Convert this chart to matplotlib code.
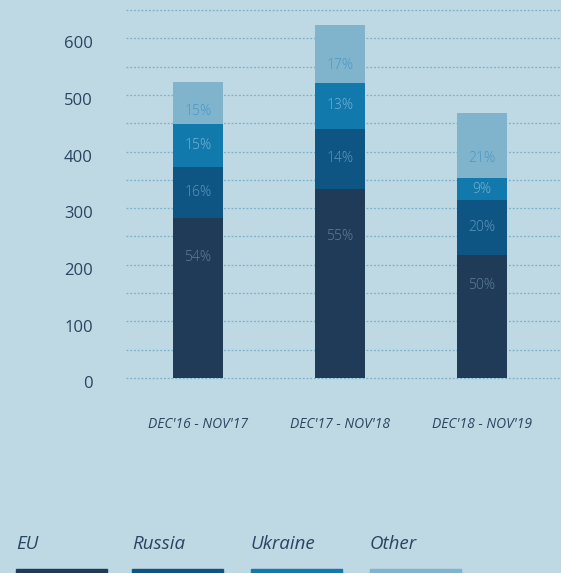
import matplotlib
matplotlib.use("Agg")
import matplotlib.pyplot as plt
import numpy as np
from matplotlib.patches import Rectangle
from matplotlib.transforms import ScaledTranslation

# ============================================================
# Data
# ============================================================
periods = ["DEC'16 - NOV'17", "DEC'17 - NOV'18", "DEC'18 - NOV'19"]
series = ["EU", "Russia", "Ukraine", "Other"]

eu = [283, 334, 217]
russia = [90, 106, 97]
ukraine = [76, 81, 39]
other = [74, 103, 115]

eu_pct = ["54%", "55%", "50%"]
russia_pct = ["16%", "14%", "20%"]
ukraine_pct = ["15%", "13%", "9%"]
other_pct = ["15%", "17%", "21%"]

# ============================================================
# Style
# ============================================================
bg = "#bed8e4"
colors = ["#1f3b57", "#0f5584", "#1279ad", "#80b4cd"]
text_colors = ["#5f7f9a", "#5f98c0", "#76b2d6", "#4a96c4"]
label_pos = [0.75, 0.5, 0.5, 0.3]
navy = "#2a4560"

plt.rcParams.update({
    "font.family": ["Open Sans", "DejaVu Sans"],
})

W, H = 561, 573
fig = plt.figure(figsize=(W / 100, H / 100), dpi=100, facecolor=bg)
ax = fig.add_axes([126 / W, (H - 378) / H, 435 / W, 368 / H])
ax.set_facecolor(bg)

x = np.arange(len(periods))
width = 0.352

values = [eu, russia, ukraine, other]
pcts = [eu_pct, russia_pct, ukraine_pct, other_pct]
bottom = np.zeros(len(periods))
for vals, lbls, col, tcol, frac in zip(values, pcts, colors, text_colors, label_pos):
    vals = np.array(vals, dtype=float)
    ax.bar(x, vals, width, bottom=bottom, color=col, zorder=3)
    for j in range(len(periods)):
        ax.text(x[j], bottom[j] + vals[j] * frac, lbls[j], ha="center", va="center",
                color=tcol, fontsize=10, fontweight="light", zorder=4)
    bottom += vals

ax.set_xlim(-0.507, 2.556)
ax.set_ylim(0, 650)

ax.set_yticks(np.arange(0, 601, 100))
ax.set_yticks(np.arange(50, 651, 100), minor=True)
ax.grid(axis="y", which="both", color="#7eb0c9", linestyle=(0, (1.5, 1.5)),
        linewidth=0.9, zorder=1)
for t in ax.yaxis.get_major_ticks() + ax.yaxis.get_minor_ticks():
    t.gridline.set_clip_on(False)

ax.tick_params(axis="y", which="both", length=0, pad=24, labelsize=12, labelcolor=navy)
ax.tick_params(axis="x", length=0, pad=28)
ax.set_xticks(x)
ax.set_xticklabels(periods, fontsize=10, style="italic", color=navy)

offset = ScaledTranslation(0, -3 / 72, fig.dpi_scale_trans)
for lab in ax.get_yticklabels():
    lab.set_transform(lab.get_transform() + offset)

for s in ax.spines.values():
    s.set_visible(False)

# ============================================================
# Legend at the bottom
# ============================================================
leg_x = [16, 132, 251, 370]
for name, col, lx in zip(series, colors, leg_x):
    fig.text(lx / W, (H - 544) / H, name, ha="left", va="center", fontsize=13.5,
             style="italic", color=navy)
    fig.patches.append(Rectangle((lx / W, 0), 91 / W, 4.5 / H,
                                 transform=fig.transFigure, color=col))

plt.savefig("out.png", dpi=100, facecolor=bg)
